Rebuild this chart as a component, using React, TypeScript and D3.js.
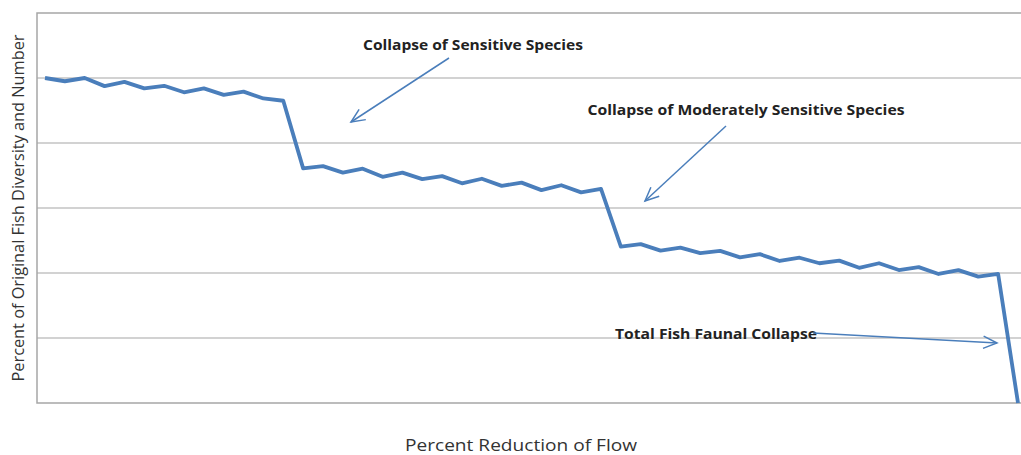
import React from "react";
import * as d3 from "d3";

const flowSteps: number[] = Array.from({ length: 50 }, (_, i) => i);
const diversity: number[] = [
  100, 99, 100, 97.5, 98.8, 96.8, 97.6, 95.6, 96.8, 94.8, 95.8, 93.7, 93.0,
  72.2, 72.9, 70.9, 72.1, 69.6, 70.9, 68.9, 69.8, 67.6, 69.0, 66.8, 67.8, 65.5, 67.0, 64.8, 65.9,
  48.1, 48.9, 46.9, 47.8, 46.1, 46.8, 44.8, 45.8, 43.7, 44.7, 43.0, 43.8, 41.6, 43.0, 40.9, 41.8,
  39.7, 40.9, 38.9, 39.7, 0,
];
const gridValues: number[] = [20, 40, 60, 80, 100];
const yMax = 120;

const annotations = [
  { text: "Collapse of Sensitive Species", x: 473, y: 50, len: 220, from: [449, 58], to: [351, 122] },
  { text: "Collapse of Moderately Sensitive Species", x: 746, y: 115, len: 317, from: [726, 126], to: [645, 201] },
  { text: "Total Fish Faunal Collapse", x: 716, y: 339, len: 202, from: [813, 333], to: [997, 343] },
];

export default function App() {
  const W = 1021, H = 455;
  const left = 37, top = 13, bottom = 403, right = 1030;
  const x = d3.scalePoint<number>().domain(flowSteps).range([45, 1018]);
  const y = d3.scaleLinear().domain([0, yMax]).range([bottom, top]);
  const line = d3.line<number>().x((_, i) => x(flowSteps[i]) as number).y((d) => y(d));
  const blue = "#4a7ebb";
  const arrowHead = (from: number[], to: number[]) => {
    const ang = Math.atan2(to[1] - from[1], to[0] - from[0]);
    const L = 15, a = 0.42;
    const p1 = [to[0] - L * Math.cos(ang - a), to[1] - L * Math.sin(ang - a)];
    const p2 = [to[0] - L * Math.cos(ang + a), to[1] - L * Math.sin(ang + a)];
    return `M${p1[0]},${p1[1]}L${to[0]},${to[1]}L${p2[0]},${p2[1]}`;
  };
  return (
    <svg width={W} height={H} style={{ position: "absolute", left: 0, top: 0, background: "#fff" }}>
      <rect x={0} y={0} width={W} height={H} fill="#fff" />
      {gridValues.map((v) => (
        <line key={v} x1={left} x2={right} y1={y(v)} y2={y(v)} stroke="#a6a6a6" strokeWidth={1.2} />
      ))}
      <rect x={left} y={top} width={right - left} height={bottom - top} fill="none" stroke="#a6a6a6" strokeWidth={1.5} />
      <path d={line(diversity) || ""} fill="none" stroke={blue} strokeWidth={3.8} strokeLinejoin="round" />
      {annotations.map((a) => (
        <g key={a.text}>
          <text x={a.x} y={a.y} textAnchor="middle" fontFamily="'Open Sans', sans-serif" fontWeight="bold" fontSize={13.5}
            fill="#222" textLength={a.len} lengthAdjust="spacingAndGlyphs">{a.text}</text>
          <line x1={a.from[0]} y1={a.from[1]} x2={a.to[0]} y2={a.to[1]} stroke={blue} strokeWidth={1.5} />
          <path d={arrowHead(a.from, a.to)} fill="none" stroke={blue} strokeWidth={1.5} />
        </g>
      ))}
      <text transform={`translate(24,208) rotate(-90)`} textAnchor="middle" fontFamily="'Open Sans', sans-serif" fontSize={16}
        fill="#333" textLength={347} lengthAdjust="spacingAndGlyphs">Percent of Original Fish Diversity and Number</text>
      <text x={521} y={451} textAnchor="middle" fontFamily="'Open Sans', sans-serif" fontSize={17}
        fill="#333" textLength={232} lengthAdjust="spacingAndGlyphs">Percent Reduction of Flow</text>
    </svg>
  );
}
